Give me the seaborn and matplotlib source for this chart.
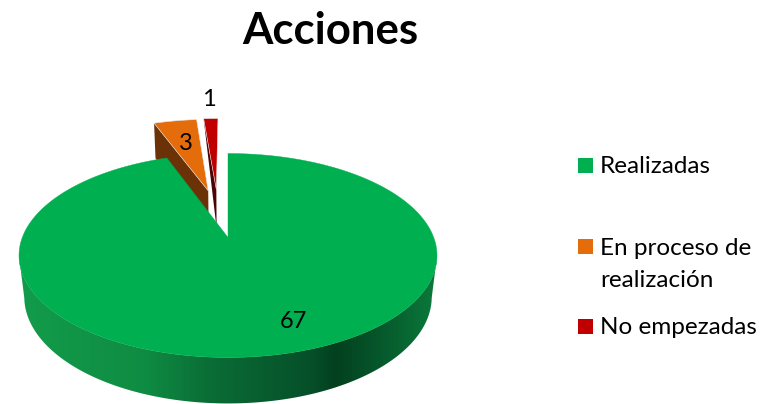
import numpy as np
import matplotlib
matplotlib.use("Agg")
import matplotlib.pyplot as plt
from matplotlib.colors import LinearSegmentedColormap
from matplotlib.patches import Rectangle, Polygon
import seaborn as sns

# ---- data ----
title = "Acciones"
categories = ["Realizadas", "En proceso de\nrealización", "No empezadas"]
values = [67, 3, 1]

# ---- styles ----
top_colors = ["#00AF50", "#E46C0A", "#C00000"]
wall_colors = ["#0A7038", "#6B3208", "#4E0404"]
explode_u = [0.0, -0.105, -0.062]
explode_v = [0.0, 0.516, 0.53]
wall_outer = [1.0, 1.0, 0.0]   # how far the cut wall drops at the rim
label_pos = [(293, 322), (186, 143), (209, 99)]
legend_square_y = [165.5, 246.5, 326.5]
legend_baseline_y = [173, 287, 334]

sns.set_theme(style="white")
plt.rcParams["font.family"] = ["Lato", "DejaVu Sans"]

fig = plt.figure(figsize=(7.62, 4.04), dpi=100, facecolor="white")
ax = fig.add_axes([0, 0, 1, 1])
ax.axis("off")

CX, CY = 228.0, 237.5   # pie apex on screen
K, A, B = 0.1765, 98.8, 205.7   # tilt / perspective
DEPTH, E = 42.0, 0.025


def project(u, v, low=False):
    """Tilted-disc projection of plane coordinates; low=True is the under side."""
    u, v = np.asarray(u, float), np.asarray(v, float)
    d = 1 + K * v + (E if low else 0)
    return CX + B * u / d, CY + (-A * v + (DEPTH if low else 0)) / d


def rim(a0, a1, u0, v0, n):
    t = np.radians(np.linspace(a0, a1, n))
    return u0 + np.sin(t), v0 + np.cos(t)


fractions = np.array(values, float) / np.sum(values)
edges = np.concatenate([[0], np.cumsum(fractions) * 360])
spans = list(zip(edges[:-1], edges[1:]))

# big slice geometry
ru, rv = rim(*spans[0], 0, 0, 721)
xt, yt = project(ru, rv)
xb, yb = project(ru, rv, low=True)
xmin, xmax = xt.min(), xt.max()

# shaded front wall: a horizontal gradient clipped to the wall outline
wall_cmap = LinearSegmentedColormap.from_list(
    "wall",
    [(0.00, "#129C4A"), (0.30, "#0F8C43"), (0.45, "#0A6E36"), (0.70, "#064F29"),
     (0.76, "#03401F"), (0.90, "#07602F"), (1.00, "#0B7A3B")],
)
front = rv < -K   # the rim's silhouette points sit at v = -K on both faces
outline = np.column_stack([np.r_[xt[front], xb[front][::-1]], np.r_[yt[front], yb[front][::-1]]])
img = ax.imshow(np.linspace(0, 1, 512)[None, :], cmap=wall_cmap, aspect="auto",
                extent=(xmin, xmax, 410, 200), zorder=6, interpolation="bilinear")
clip = Polygon(outline, closed=True, transform=ax.transData, facecolor="none", edgecolor="none")
ax.add_patch(clip)
img.set_clip_path(clip)

ax.set_xlim(0, 762)
ax.set_ylim(404, 0)

# small exploded slices (behind the large one)
for i in [1, 2]:
    a0, a1 = spans[i]
    u0, v0 = explode_u[i], explode_v[i]
    su, sv = rim(a0, a1, u0, v0, 12)
    xa, ya = project(u0, v0)
    xr, yr = project(su[0], sv[0])
    xab, yab = project(u0, v0, low=True)
    xrb, yrb = project(su[0], sv[0], low=True)
    xrd = xr + (xrb - xr) * wall_outer[i]
    yrd = yr + (yrb - yr) * wall_outer[i]
    ax.fill([xa, xr, xrd, xab], [ya, yr, yrd, yab], color=wall_colors[i], lw=0, zorder=2 + i)
    x, y = project(np.r_[u0, su], np.r_[v0, sv])
    ax.fill(x, y, facecolor=top_colors[i], edgecolor="#e6e6e6", lw=0.4, zorder=2.5 + i)

# big slice top face
x, y = project(np.r_[0, ru], np.r_[0, rv])
ax.fill(x, y, facecolor=top_colors[0], edgecolor=top_colors[0], lw=0.3, zorder=7)

# value labels
for v, (lx, ly) in zip(values, label_pos):
    ax.text(lx, ly, str(v), ha="center", va="center", fontsize=17, color="black", zorder=10)

ax.text(330, 44, title, ha="center", va="baseline", fontsize=31.5, fontweight="bold", color="black")

# legend
for cat, col, sy, by in zip(categories, top_colors, legend_square_y, legend_baseline_y):
    ax.add_patch(Rectangle((578, sy - 7.5), 15, 15, facecolor=col, edgecolor="none"))
    ax.text(600, by, cat, ha="left", va="baseline", fontsize=17.5, color="black", linespacing=1.62)

fig.savefig("out.png", dpi=100, facecolor="white")
